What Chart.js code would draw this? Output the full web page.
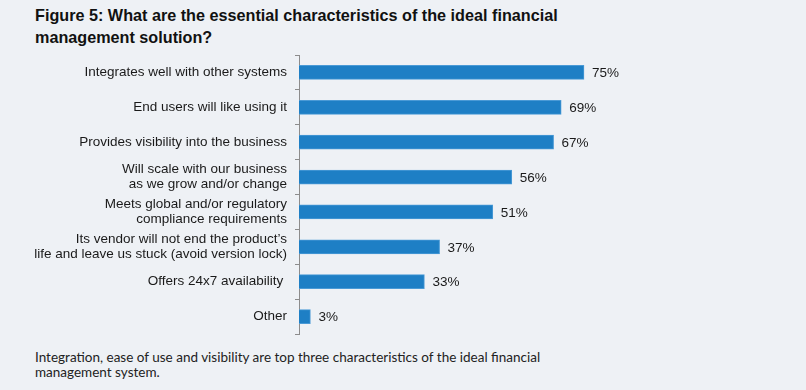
<!DOCTYPE html>
<html>
<head>
<meta charset="utf-8">
<script src="https://cdn.jsdelivr.net/npm/chart.js@4.4.0/dist/chart.umd.min.js"></script>
<style>
  html, body { margin: 0; padding: 0; background: #eef1f5; }
  #page { position: relative; width: 806px; height: 390px; overflow: hidden; background: #eef1f5; }
  #title { position: absolute; left: 35px; top: 4px; font-family: "Liberation Sans", Arial, sans-serif; font-weight: bold; font-size: 16.2px; line-height: 22px; color: #111; }
  #note { position: absolute; left: 35px; top: 350px; font-family: Lato, "Liberation Sans", sans-serif; font-size: 13.5px; line-height: 15px; color: #222; }
  #chartBox { position: absolute; left: 0; top: 50px; width: 806px; height: 290px; }
</style>
</head>
<body>
<div id="page">
  <div id="title">Figure 5: What are the essential characteristics of the ideal financial<br>management solution?</div>
  <div id="chartBox"><canvas id="chart"></canvas></div>
  <div id="note">Integration, ease of use and visibility are top three characteristics of the ideal financial<br>management system.</div>
</div>
<script>
const categories = [
    'Integrates well with other systems',
    'End users will like using it',
    'Provides visibility into the business',
    ['Will scale with our business', 'as we grow and/or change'],
    ['Meets global and/or regulatory', 'compliance requirements'],
    ['Its vendor will not end the product\u2019s', 'life and leave us stuck (avoid version lock)'],
    'Offers 24x7 availability ',
    'Other'
];
const values = [75, 69, 67, 56, 51, 37, 33, 3];

// draws the "75%" style labels at the end of each bar
const valueLabels = {
    id: 'valueLabels',
    afterDatasetsDraw(chart) {
        const ctx = chart.ctx;
        const meta = chart.getDatasetMeta(0);
        ctx.save();
        ctx.font = '13.5px "Liberation Sans", Arial, sans-serif';
        ctx.fillStyle = '#1a1a1a';
        ctx.textAlign = 'left';
        ctx.textBaseline = 'middle';
        meta.data.forEach((bar, i) => {
            ctx.fillText(values[i] + '%', bar.x + 8, bar.y + 1);
        });
        ctx.restore();
    }
};

const ctx = document.getElementById('chart').getContext('2d');
new Chart(ctx, {
    type: 'bar',
    data: {
        labels: categories,
        datasets: [{
            data: values,
            backgroundColor: '#1e7fc5',
            borderColor: '#4a9ad6',
            borderWidth: 1,
            barThickness: 14
        }]
    },
    options: {
        indexAxis: 'y',
        responsive: true,
        maintainAspectRatio: false,
        animation: false,
        layout: { padding: { top: 5, bottom: 6, right: 127, left: 0 } },
        plugins: {
            legend: { display: false },
            tooltip: { enabled: false }
        },
        scales: {
            x: {
                display: false,
                min: 0,
                max: 100
            },
            y: {
                afterFit(scale) {
                    scale.width = 299;
                    scale.paddingTop = 0;
                    scale.paddingBottom = 0;
                },
                border: { color: '#8c8c8c', width: 1 },
                grid: {
                    offset: true,
                    drawOnChartArea: false,
                    tickLength: 4,
                    color: '#8c8c8c'
                },
                ticks: {
                    color: '#1a1a1a',
                    padding: 8,
                    font: { family: '"Liberation Sans", Arial, sans-serif', size: 13.5, lineHeight: 1.12 }
                }
            }
        }
    },
    plugins: [valueLabels]
});
</script>
</body>
</html>
